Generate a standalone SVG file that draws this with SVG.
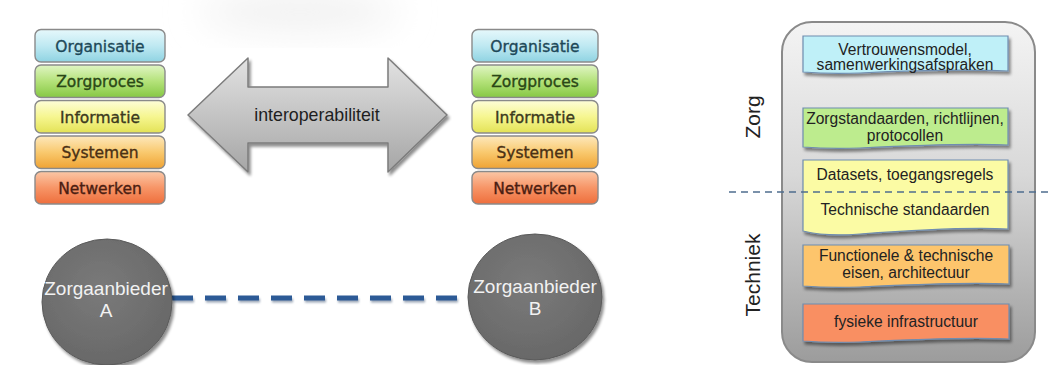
<svg xmlns="http://www.w3.org/2000/svg" width="1048" height="365" viewBox="0 0 1048 365">
  <defs>
    <style>
      .layer { stroke: #8a8a8a; stroke-width: 1.4; }
      .layer-text { font-family: "DejaVu Sans", Verdana, sans-serif; font-size: 15.5px; text-anchor: middle; stroke-width: 0.35; }
      .sans { font-family: "Liberation Sans", Arial, sans-serif; }
      .card { stroke: #6f8db0; stroke-width: 1.2; filter: url(#shadow); }
      .card-text { font-family: "Liberation Sans", Arial, sans-serif; font-size: 15.6px; fill: #222; text-anchor: middle; }
      .actor-text { font-family: "Liberation Sans", Arial, sans-serif; font-size: 19px; fill: #f2f2f2; text-anchor: middle; }
      .side-label { font-family: "Liberation Sans", Arial, sans-serif; font-size: 21px; fill: #222; text-anchor: middle; }
    </style>
    <filter id="shadow" x="-10%" y="-20%" width="130%" height="160%">
      <feGaussianBlur in="SourceAlpha" stdDeviation="1.6"/>
      <feOffset dx="1.5" dy="2.5" result="b"/>
      <feComponentTransfer><feFuncA type="linear" slope="0.45"/></feComponentTransfer>
      <feMerge><feMergeNode/><feMergeNode in="SourceGraphic"/></feMerge>
    </filter>
    <filter id="haze" x="-50%" y="-50%" width="200%" height="200%">
      <feGaussianBlur stdDeviation="18"/>
    </filter>
    <filter id="soft" filterUnits="userSpaceOnUse" x="150" y="285" width="340" height="30">
      <feGaussianBlur stdDeviation="1.2"/>
    </filter>
    <linearGradient id="gOrg" x1="0" y1="0" x2="0" y2="1">
      <stop offset="0" stop-color="#e6f8fb"/><stop offset="0.5" stop-color="#bfe9f2"/><stop offset="1" stop-color="#8fd3e2"/>
    </linearGradient>
    <linearGradient id="gZorg" x1="0" y1="0" x2="0" y2="1">
      <stop offset="0" stop-color="#e0f5c4"/><stop offset="0.5" stop-color="#b4e27a"/><stop offset="1" stop-color="#86c844"/>
    </linearGradient>
    <linearGradient id="gInfo" x1="0" y1="0" x2="0" y2="1">
      <stop offset="0" stop-color="#fdfdd8"/><stop offset="0.5" stop-color="#f6f690"/><stop offset="1" stop-color="#e3e256"/>
    </linearGradient>
    <linearGradient id="gSys" x1="0" y1="0" x2="0" y2="1">
      <stop offset="0" stop-color="#fde8bc"/><stop offset="0.5" stop-color="#f9c96e"/><stop offset="1" stop-color="#efa334"/>
    </linearGradient>
    <linearGradient id="gNet" x1="0" y1="0" x2="0" y2="1">
      <stop offset="0" stop-color="#fbc7a6"/><stop offset="0.5" stop-color="#f79567"/><stop offset="1" stop-color="#ee6e3c"/>
    </linearGradient>
    <linearGradient id="gArrow" x1="0" y1="0" x2="0" y2="1">
      <stop offset="0" stop-color="#e2e2e2"/><stop offset="1" stop-color="#a6a6a6"/>
    </linearGradient>
    <radialGradient id="gActor" cx="0.45" cy="0.4" r="0.65">
      <stop offset="0" stop-color="#7a7a7a"/><stop offset="1" stop-color="#676767"/>
    </radialGradient>
    <linearGradient id="gPanel" x1="0" y1="0" x2="0" y2="1">
      <stop offset="0" stop-color="#f4f4f4"/><stop offset="0.45" stop-color="#d8d8d8"/><stop offset="1" stop-color="#9c9c9c"/>
    </linearGradient>
  </defs>

  <rect width="1048" height="365" fill="#ffffff"/>
  <!-- faint grey haze behind the top of the arrow -->
  <ellipse cx="300" cy="12" rx="100" ry="18" fill="#f0f0f0" filter="url(#haze)"/>

  <!-- layer stack, left -->
  <g id="stack-left">
    <rect class="layer" x="35" y="29.5" width="130" height="32.5" rx="6" fill="url(#gOrg)"/>
    <text class="layer-text" x="100" y="51.5" fill="#1d4858" stroke="#1d4858">Organisatie</text>
    <rect class="layer" x="35" y="65" width="130" height="32.5" rx="6" fill="url(#gZorg)"/>
    <text class="layer-text" x="100" y="87" fill="#2a4716" stroke="#2a4716">Zorgproces</text>
    <rect class="layer" x="35" y="100.5" width="130" height="32.5" rx="6" fill="url(#gInfo)"/>
    <text class="layer-text" x="100" y="122.5" fill="#3c3a1e" stroke="#3c3a1e">Informatie</text>
    <rect class="layer" x="35" y="136" width="130" height="32.5" rx="6" fill="url(#gSys)"/>
    <text class="layer-text" x="100" y="158" fill="#4a3014" stroke="#4a3014">Systemen</text>
    <rect class="layer" x="35" y="171.5" width="130" height="32.5" rx="6" fill="url(#gNet)"/>
    <text class="layer-text" x="100" y="193.5" fill="#4b1e12" stroke="#4b1e12">Netwerken</text>
  </g>

  <!-- layer stack, right -->
  <g id="stack-right">
    <rect class="layer" x="472" y="29.5" width="126" height="32.5" rx="6" fill="url(#gOrg)"/>
    <text class="layer-text" x="535" y="51.5" fill="#1d4858" stroke="#1d4858">Organisatie</text>
    <rect class="layer" x="472" y="65" width="126" height="32.5" rx="6" fill="url(#gZorg)"/>
    <text class="layer-text" x="535" y="87" fill="#2a4716" stroke="#2a4716">Zorgproces</text>
    <rect class="layer" x="472" y="100.5" width="126" height="32.5" rx="6" fill="url(#gInfo)"/>
    <text class="layer-text" x="535" y="122.5" fill="#3c3a1e" stroke="#3c3a1e">Informatie</text>
    <rect class="layer" x="472" y="136" width="126" height="32.5" rx="6" fill="url(#gSys)"/>
    <text class="layer-text" x="535" y="158" fill="#4a3014" stroke="#4a3014">Systemen</text>
    <rect class="layer" x="472" y="171.5" width="126" height="32.5" rx="6" fill="url(#gNet)"/>
    <text class="layer-text" x="535" y="193.5" fill="#4b1e12" stroke="#4b1e12">Netwerken</text>
  </g>

  <!-- double-headed interoperability arrow -->
  <g id="interoperabiliteit">
    <polygon points="188,115 248,58 248,87 388,87 388,58 447,115 388,172 388,143 248,143 248,172"
             fill="url(#gArrow)" stroke="#7c7c7c" stroke-width="1.5" stroke-linejoin="round" filter="url(#shadow)"/>
    <text class="sans" x="317" y="121" font-size="17.8" fill="#1e1e1e" text-anchor="middle">interoperabiliteit</text>
  </g>

  <!-- connectors -->
  <g id="connectors">
    <line x1="173" y1="300.5" x2="468" y2="300.5" stroke="#9aa6b6" stroke-width="4" stroke-dasharray="21,12" filter="url(#soft)"/>
    <line x1="172" y1="298" x2="467" y2="298" stroke="#2c5a96" stroke-width="5" stroke-dasharray="21,12"/>
  </g>

  <!-- care providers -->
  <g id="zorgaanbieder-a">
    <ellipse cx="107" cy="302" rx="65" ry="63" fill="url(#gActor)" stroke="#5a5a5a" stroke-width="1" filter="url(#shadow)"/>
    <text class="actor-text" x="106" y="295">Zorgaanbieder</text>
    <text class="actor-text" x="106" y="317">A</text>
  </g>
  <g id="zorgaanbieder-b">
    <ellipse cx="535" cy="297" rx="67" ry="63" fill="url(#gActor)" stroke="#5a5a5a" stroke-width="1" filter="url(#shadow)"/>
    <text class="actor-text" x="535" y="293">Zorgaanbieder</text>
    <text class="actor-text" x="535" y="315">B</text>
  </g>

  <!-- standards panel -->
  <g id="panel">
    <rect x="782" y="22" width="253" height="340" rx="30" fill="url(#gPanel)" stroke="#8a8a8a" stroke-width="2"/>
  </g>

  <g id="vertrouwensmodel">
    <path class="card" d="M803,36 H1008 V71 C960,69 900,71 860,73 C835,74 815,73 803,72 Z" fill="#bff0f8"/>
    <text class="card-text" x="905" y="55">Vertrouwensmodel,</text>
    <text class="card-text" x="905" y="70">samenwerkingsafspraken</text>
  </g>
  <g id="zorgstandaarden">
    <path class="card" d="M803,108 H1008 V145 C960,143 900,146 860,148 C835,149 815,148 803,147 Z" fill="#bdec8e"/>
    <text class="card-text" x="905" y="124">Zorgstandaarden, richtlijnen,</text>
    <text class="card-text" x="905" y="141">protocollen</text>
  </g>
  <g id="datasets">
    <path class="card" d="M803,160 H1008 V229 C965,227 900,231 860,234 C835,236 815,234 803,231 Z" fill="#fbfba4"/>
    <text class="card-text" x="905" y="180">Datasets, toegangsregels</text>
    <text class="card-text" x="905" y="215">Technische standaarden</text>
  </g>
  <g id="functionele-eisen">
    <path class="card" d="M803,245 H1009 V284 C965,282 900,285 860,287 C835,288 815,287 803,286 Z" fill="#fdc56c"/>
    <text class="card-text" x="906" y="261">Functionele &amp; technische</text>
    <text class="card-text" x="906" y="278">eisen, architectuur</text>
  </g>
  <g id="fysieke-infrastructuur">
    <path class="card" d="M803,304 H1009 V339 C965,337 900,340 860,342 C835,343 815,342 803,341 Z" fill="#f98f62"/>
    <text class="card-text" x="906" y="327">fysieke infrastructuur</text>
  </g>

  <!-- boundary between care and technique -->
  <g id="boundary">
    <line x1="729" y1="192" x2="1048" y2="192" stroke="#4f6d8f" stroke-width="1.5" stroke-dasharray="7,5"/>
  </g>

  <g id="side-labels">
    <text class="side-label" transform="translate(760,117) rotate(-90)">Zorg</text>
    <text class="side-label" transform="translate(760,275) rotate(-90)">Techniek</text>
  </g>
</svg>
